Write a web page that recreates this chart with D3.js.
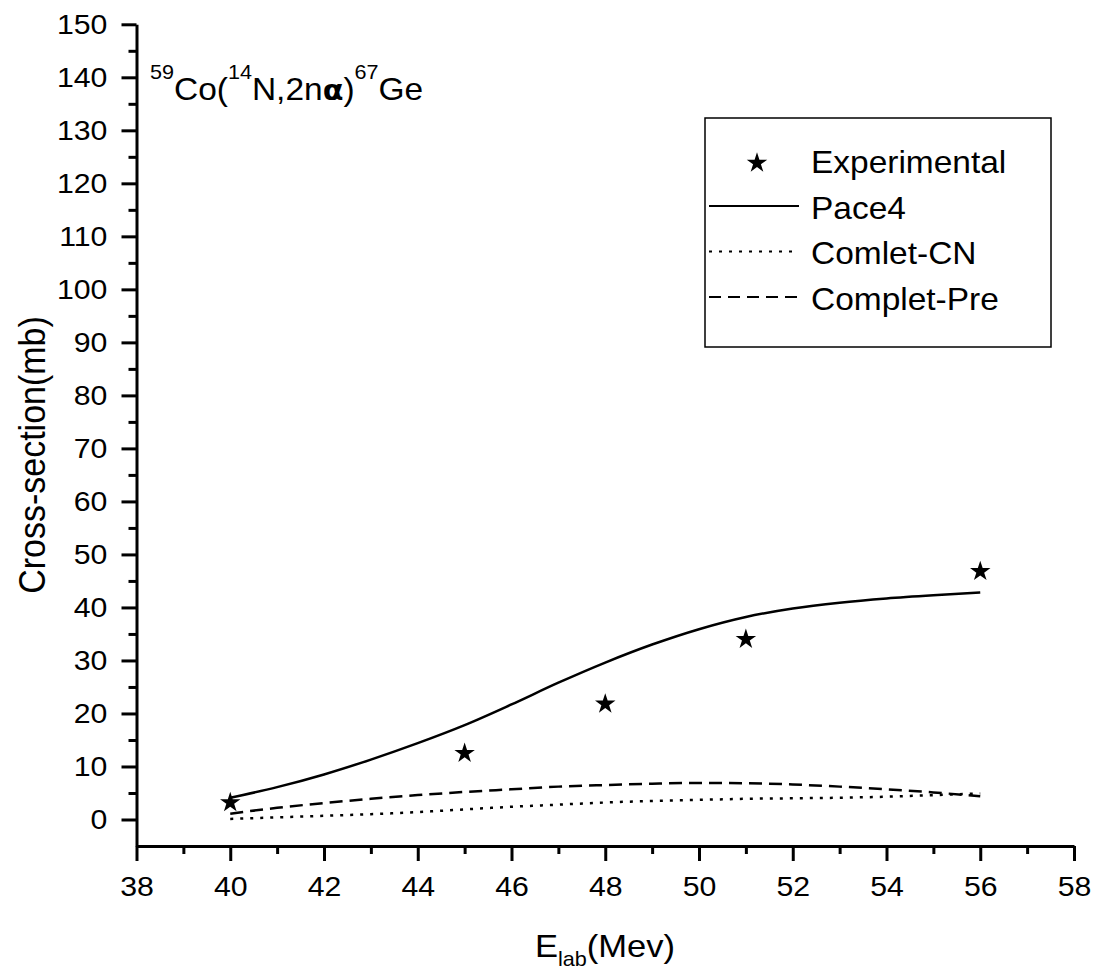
<!DOCTYPE html>
<html>
<head>
<meta charset="utf-8">
<script src="https://cdn.jsdelivr.net/npm/d3@7"></script>
<style>
  html, body { margin: 0; padding: 0; background: #fff; }
  svg { display: block; }
  text { font-family: "Liberation Sans", Arial, sans-serif; fill: #000; }
</style>
</head>
<body>
<svg id="chart" width="1101" height="973"></svg>
<script>
// Beam energies (MeV) and measured cross-sections (mb)
const expEnergy = [40, 45, 48, 51, 56];
const expSigma  = [3.2, 12.5, 21.8, 34.0, 46.8];

// Theoretical excitation functions on a 1 MeV grid
const calcEnergy   = [40, 41, 42, 43, 44, 45, 46, 47, 48, 49, 50, 51, 52, 53, 54, 55, 56];
const pace4Sigma   = [4.1, 6.1, 8.5, 11.3, 14.4, 17.8, 21.7, 25.8, 29.6, 33.0, 35.9, 38.2, 39.8, 40.9, 41.7, 42.3, 42.8];
const compCNSigma  = [0.1, 0.4, 0.7, 1.0, 1.4, 1.9, 2.4, 2.8, 3.2, 3.5, 3.7, 3.9, 4.0, 4.1, 4.3, 4.6, 4.9];
const compPreSigma = [1.1, 2.2, 3.1, 3.9, 4.6, 5.2, 5.7, 6.2, 6.5, 6.75, 6.9, 6.85, 6.6, 6.2, 5.7, 5.1, 4.4];

// Axis ticks
const xMajorTicks = d3.range(38, 58.001, 2);
const xMinorTicks = d3.range(39, 58, 2);
const yMajorTicks = d3.range(0, 150.001, 10);
const yMinorTicks = d3.range(5, 150, 10);

const legendLabels = ["Experimental", "Pace4", "Comlet-CN", "Complet-Pre"];

const SX = 1.08; // horizontal text stretch

const svg = d3.select("#chart");
svg.append("rect").attr("width", 1101).attr("height", 973).attr("fill", "#fff");

const x = d3.scaleLinear().domain([38, 58]).range([136.5, 1074]);
const y = d3.scaleLinear().domain([-5, 150]).range([846, 24.3]);

// ----- axes -----
function styleAxis(g) {
  g.select(".domain").attr("stroke", "#000").attr("stroke-width", 3);
  g.selectAll(".tick line").attr("stroke", "#000").attr("stroke-width", 3);
}

const xMinor = svg.append("g").attr("transform", `translate(0,${y(-5)})`)
  .call(d3.axisBottom(x).tickValues(xMinorTicks).tickSize(8).tickSizeOuter(0).tickFormat(""));
styleAxis(xMinor);
xMinor.select(".domain").remove();

const xAxis = svg.append("g").attr("transform", `translate(0,${y(-5)})`)
  .call(d3.axisBottom(x).tickValues(xMajorTicks).tickSize(15).tickSizeOuter(0).tickPadding(15).tickFormat(d3.format("d")));
styleAxis(xAxis);
xAxis.selectAll(".tick text")
  .attr("font-size", 28).attr("font-family", "Liberation Sans, Arial, sans-serif")
  .attr("transform", `scale(${SX},1)`);

const yMinor = svg.append("g").attr("transform", `translate(${x(38)},0)`)
  .call(d3.axisLeft(y).tickValues(yMinorTicks).tickSize(8).tickSizeOuter(0).tickFormat(""));
styleAxis(yMinor);
yMinor.select(".domain").remove();

const yAxis = svg.append("g").attr("transform", `translate(${x(38)},0)`)
  .call(d3.axisLeft(y).tickValues(yMajorTicks).tickSize(15).tickSizeOuter(0).tickPadding(12).tickFormat(d3.format("d")));
styleAxis(yAxis);
yAxis.selectAll(".tick text")
  .attr("font-size", 28).attr("font-family", "Liberation Sans, Arial, sans-serif")
  .attr("transform", `scale(${SX},1)`);

// Axis titles
const xt = svg.append("text")
  .attr("transform", `translate(605,957) scale(${SX},1)`)
  .attr("text-anchor", "middle").attr("font-size", 32);
xt.append("tspan").text("E");
xt.append("tspan").attr("font-size", 20).attr("dy", 9).text("lab");
xt.append("tspan").attr("dy", -9).text("(Mev)");

svg.append("text")
  .attr("transform", `translate(45,455) scale(${SX},1) rotate(-90)`)
  .attr("text-anchor", "middle").attr("font-size", 34)
  .text("Cross-section(mb)");

// Reaction label
const title = svg.append("text")
  .attr("transform", `translate(150,100) scale(${SX},1)`)
  .attr("font-size", 31);
title.append("tspan").attr("font-size", 20).attr("dy", -21).text("59");
title.append("tspan").attr("dy", 21).text("Co(");
title.append("tspan").attr("font-size", 20).attr("dy", -21).text("14");
title.append("tspan").attr("dy", 21).text("N,2n");
title.append("tspan").attr("font-family", "DejaVu Sans").attr("font-weight", "bold").attr("font-size", 28).text("α");
title.append("tspan").text(")");
title.append("tspan").attr("font-size", 20).attr("dy", -21).text("67");
title.append("tspan").attr("dy", 21).text("Ge");

// ----- curves -----
const line = d3.line().x(d => x(d[0])).y(d => y(d[1])).curve(d3.curveMonotoneX);
const series = [
  { vals: pace4Sigma,   dash: null },
  { vals: compCNSigma,  dash: "3,7" },
  { vals: compPreSigma, dash: "13,7" }
];
series.forEach(s => {
  svg.append("path")
    .datum(calcEnergy.map((e, i) => [e, s.vals[i]]))
    .attr("d", line)
    .attr("fill", "none").attr("stroke", "#000").attr("stroke-width", 2.5)
    .attr("stroke-dasharray", s.dash);
});

// Experimental points
const star = d3.symbol().type(d3.symbolStar).size(130);
svg.append("g").selectAll("path")
  .data(expEnergy.map((e, i) => [e, expSigma[i]]))
  .join("path")
  .attr("d", star)
  .attr("transform", d => `translate(${x(d[0])},${y(d[1])})`)
  .attr("fill", "#000");

// ----- legend -----
const lg = svg.append("g");
lg.append("rect").attr("x", 705).attr("y", 118).attr("width", 346).attr("height", 229)
  .attr("fill", "#fff").attr("stroke", "#000").attr("stroke-width", 1.5);
lg.append("path").attr("d", star).attr("transform", "translate(757,163)").attr("fill", "#000");
[null, "3,7", "12,7"].forEach((dash, i) => {
  const ly = 206 + i * 45.5;
  lg.append("line").attr("x1", 709).attr("x2", 799).attr("y1", ly).attr("y2", ly)
    .attr("stroke", "#000").attr("stroke-width", 2).attr("stroke-dasharray", dash);
});
legendLabels.forEach((t, i) => {
  lg.append("text")
    .attr("transform", `translate(811,${173 + i * 45.5}) scale(${SX},1)`)
    .attr("font-size", 31).text(t);
});
</script>
</body>
</html>
